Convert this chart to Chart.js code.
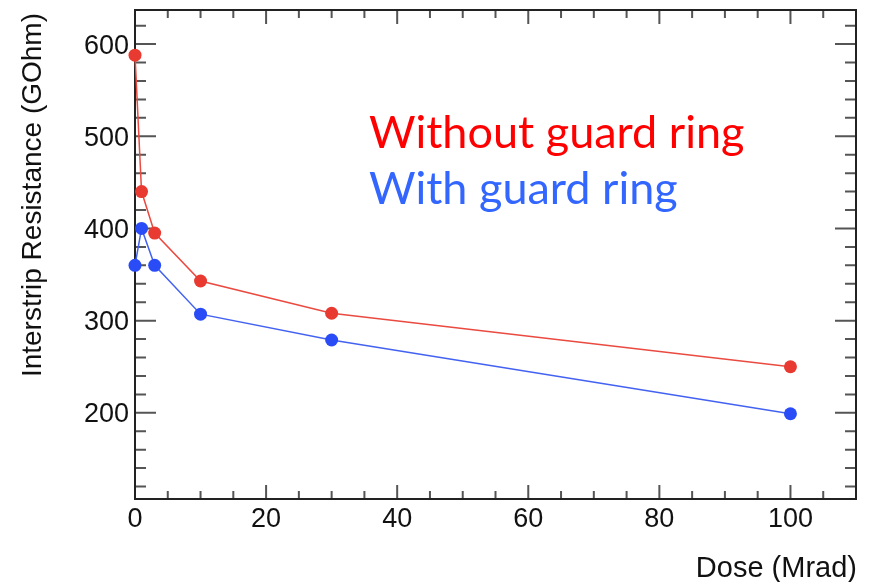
<!DOCTYPE html>
<html>
<head>
<meta charset="utf-8">
<script src="https://cdn.jsdelivr.net/npm/chart.js@4/dist/chart.umd.min.js"></script>
<style>
  body { margin: 0; background: #fff; }
  canvas { display: block; }
</style>
</head>
<body>
<canvas id="chart" width="879" height="582"></canvas>
<script>
// dose in Mrad
const dose = [0, 1, 3, 10, 30, 100];
// interstrip resistance (GOhm)
const withoutRing = [588, 440, 395, 343, 308, 250];
const withRing = [360, 400, 360, 307, 279, 199];

const yMajor = [200, 300, 400, 500, 600];
const xMajor = [0, 20, 40, 60, 80, 100];

const toPoints = (ys) => dose.map((x, i) => ({ x: x, y: ys[i] }));

// ROOT style frame with inward ticks on all four sides
const rootFrame = {
    id: 'rootFrame',
    beforeDatasetsDraw(chart) {
        const { ctx, chartArea: a, scales: { x, y } } = chart;
        ctx.save();
        ctx.strokeStyle = '#555';
        ctx.lineWidth = 2;
        ctx.beginPath();
        for (let v = 0; v <= 110; v += 5) {
            const px = x.getPixelForValue(v);
            const len = v % 20 === 0 ? 14 : 8;
            ctx.moveTo(px, a.bottom); ctx.lineTo(px, a.bottom - len);
            ctx.moveTo(px, a.top); ctx.lineTo(px, a.top + len);
        }
        for (let v = 120; v <= 630; v += 20) {
            const py = y.getPixelForValue(v);
            const len = v % 100 === 0 ? 21 : 11;
            ctx.moveTo(a.left, py); ctx.lineTo(a.left + len, py);
            ctx.moveTo(a.right, py); ctx.lineTo(a.right - len, py);
        }
        ctx.stroke();

        ctx.strokeStyle = '#222';
        ctx.lineWidth = 2;
        ctx.strokeRect(a.left, a.top, a.right - a.left, a.bottom - a.top);

        ctx.fillStyle = '#111';
        ctx.font = '27px "Liberation Sans", Arial, sans-serif';
        ctx.textAlign = 'right';
        ctx.textBaseline = 'middle';
        yMajor.forEach(v => ctx.fillText(String(v), a.left - 6, y.getPixelForValue(v) + 2));
        ctx.textAlign = 'center';
        ctx.textBaseline = 'alphabetic';
        xMajor.forEach(v => ctx.fillText(String(v), x.getPixelForValue(v), 527));

        ctx.font = '29px "Liberation Sans", Arial, sans-serif';
        ctx.textAlign = 'right';
        ctx.fillText('Dose (Mrad)', a.right + 1, 577);

        ctx.save();
        ctx.translate(41, 13);
        ctx.rotate(-Math.PI / 2);
        ctx.textAlign = 'right';
        ctx.font = '28px "Liberation Sans", Arial, sans-serif';
        ctx.fillText('Interstrip Resistance (GOhm)', 0, 0);
        ctx.restore();

        ctx.textAlign = 'left';
        ctx.font = '45px Lato, "Open Sans", sans-serif';
        ctx.fillStyle = '#ff0000';
        ctx.fillText('Without guard ring', 369, 148);
        ctx.fillStyle = '#3366ff';
        ctx.fillText('With guard ring', 369, 204);
        ctx.restore();
    }
};

new Chart(document.getElementById('chart'), {
    type: 'scatter',
    data: {
        datasets: [{
            label: 'Without guard ring',
            data: toPoints(withoutRing),
            showLine: true,
            borderColor: '#ea4a40',
            backgroundColor: '#e83a30',
            borderWidth: 1.5,
            pointRadius: 6.5,
            pointBorderWidth: 0,
            clip: false
        }, {
            label: 'With guard ring',
            data: toPoints(withRing),
            showLine: true,
            borderColor: '#4362f2',
            backgroundColor: '#2a4cf6',
            borderWidth: 1.5,
            pointRadius: 6.5,
            pointBorderWidth: 0,
            clip: false
        }]
    },
    options: {
        responsive: false,
        animation: false,
        layout: { padding: { left: 135, top: 10, right: 23, bottom: 83 } },
        plugins: { legend: { display: false }, tooltip: { enabled: false } },
        scales: {
            x: { type: 'linear', min: 0, max: 110, display: false },
            y: { type: 'linear', min: 106.5, max: 637, display: false }
        }
    },
    plugins: [rootFrame]
});
</script>
</body>
</html>
